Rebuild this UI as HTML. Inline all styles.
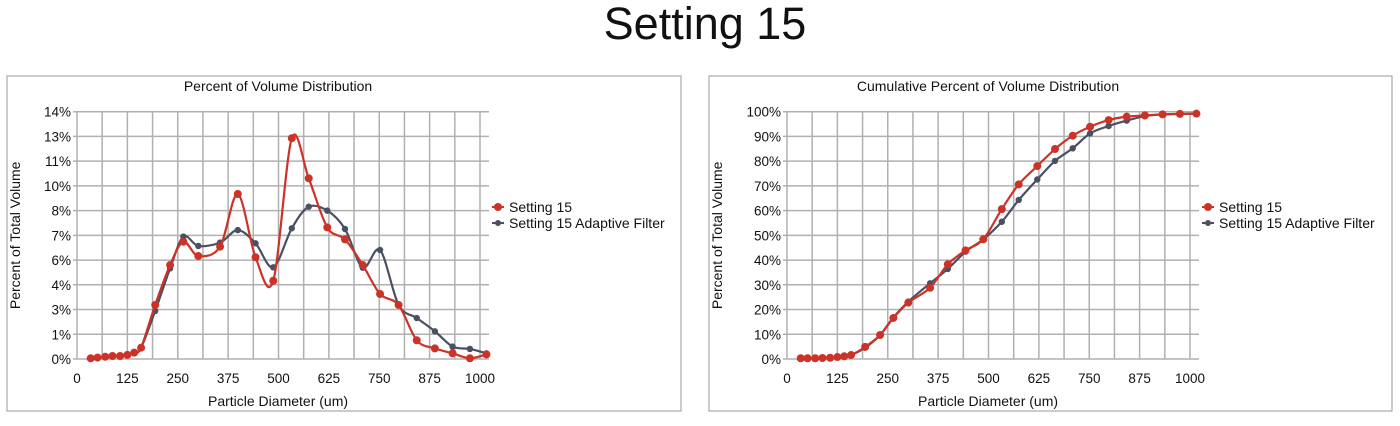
<!DOCTYPE html>
<html><head><meta charset="utf-8"><style>
body{margin:0;width:1400px;height:421px;background:#fff;overflow:hidden;font-family:"Liberation Sans",sans-serif}
svg text{font-family:"Liberation Sans",sans-serif;fill:#111}
</style></head><body>
<svg id="s" width="1400" height="421">
<text x="705" y="39" font-size="45" text-anchor="middle">Setting 15</text>
</svg>
<script>
const sizes=[34,51,70,88,107,125,142,159,194,231,264,301,355,399,443,487,533,575,621,665,709,752,798,843,888,932,975,1016];
const pctRed=[0.04,0.08,0.13,0.17,0.17,0.23,0.36,0.64,3.06,5.32,6.64,5.83,6.36,9.34,5.76,4.43,12.5,10.23,7.45,6.77,5.32,3.68,3.06,1.06,0.6,0.32,0.04,0.26];
const pctGray=[0.04,0.08,0.13,0.17,0.17,0.23,0.36,0.64,2.72,5.13,6.93,6.4,6.59,7.3,6.55,5.19,7.4,8.62,8.4,7.36,5.17,6.17,3.06,2.32,1.57,0.7,0.57,0.32];
const cumRed=[0.3,0.3,0.3,0.4,0.5,0.8,1.1,1.6,4.9,9.7,16.6,22.8,28.8,38.3,43.9,48.4,60.6,70.6,78.0,84.9,90.3,93.9,96.6,98.0,98.5,98.9,99.1,99.2];
const cumGray=[0.3,0.3,0.3,0.4,0.5,0.8,1.1,1.6,4.6,9.7,16.8,23.2,30.6,36.4,43.4,48.4,55.5,64.3,72.6,80.1,85.2,91.2,94.2,96.4,98.2,98.9,99.1,99.2];
const xTicks=[0,125,250,375,500,625,750,875,1000];
const yTicksL=["0%","1%","3%","4%","6%","7%","8%","10%","11%","13%","14%"];
const yTicksR=["0%","10%","20%","30%","40%","50%","60%","70%","80%","90%","100%"];
const seriesNames=["Setting 15","Setting 15 Adaptive Filter"];
const NS="http://www.w3.org/2000/svg";
const svg=document.getElementById('s');
function mk(t,a,p){const e=document.createElementNS(NS,t);for(const k in a)e.setAttribute(k,a[k]);(p||svg).appendChild(e);return e;}
function smooth(pts){let d=`M${pts[0][0]},${pts[0][1]}`;for(let i=0;i<pts.length-1;i++){const p0=pts[i-1]||pts[i],p1=pts[i],p2=pts[i+1],p3=pts[i+2]||p2;const t=0.16;d+=` C${p1[0]+(p2[0]-p0[0])*t},${p1[1]+(p2[1]-p0[1])*t} ${p2[0]-(p3[0]-p1[0])*t},${p2[1]-(p3[1]-p1[1])*t} ${p2[0]},${p2[1]}`;}return d;}
function chart(o){
 const g=mk('g',{});
 const b=mk('rect',{x:o.bx,y:76,width:o.bw,height:335,fill:'#fff',stroke:'#999','stroke-width':1},g);
 const X0=o.px,X1=o.px+403,Y0=359,Y1=111.7;
 const xs=v=>X0+(v/1000)*(X1-X0), ys=v=>Y0-(v/o.ymax)*(Y0-Y1);
 const t=mk('text',{x:X0+201,y:91,'font-size':14,'text-anchor':'middle'},g);t.textContent=o.title;
 for(let i=0;i<=16;i++){const x=X0+i*(X1-X0)/16;const l=mk('line',{x1:x,x2:x,y1:Y1,y2:Y0,stroke:'#b0b0b0','stroke-width':1.5},g);}
 const xe=o.px+412;
 o.yt.forEach((lab,i)=>{const y=Y0-i*(Y0-Y1)/10;const l=mk('line',{x1:X0-4,x2:xe,y1:y,y2:y,stroke:'#b0b0b0','stroke-width':1.5},g);
  const tx=mk('text',{x:X0-6,y:y+5,'font-size':13.5,'text-anchor':'end'},g);tx.textContent=lab;});
 xTicks.forEach(v=>{const tx=mk('text',{x:xs(v),y:383,'font-size':13.5,'text-anchor':'middle'},g);tx.textContent=v;});
 const xt=mk('text',{x:X0+201,y:406,'font-size':14,'text-anchor':'middle'},g);xt.textContent='Particle Diameter (um)';
 const yt=mk('text',{x:0,y:0,'font-size':14,'text-anchor':'middle',transform:`translate(${o.bx+13},${(Y0+Y1)/2}) rotate(-90)`},g);yt.textContent='Percent of Total Volume';
 [[o.gray,'#4a5062',3.2,'gray'],[o.red,'#cc3328',4,'red']].forEach(([arr,c,r,n])=>{
  const pts=arr.map((v,i)=>[xs(sizes[i]),ys(v)]);
  const p=mk('path',{d:smooth(pts),fill:'none',stroke:c,'stroke-width':2.2},g);
  pts.forEach(q=>{const m=mk('circle',{cx:q[0],cy:q[1],r:r,fill:c},g);});
 });
 [['#cc3328',0],['#4a5062',1]].forEach(([c,i])=>{const y=207+i*16;const lx=o.px+415;
  const ln=mk('line',{x1:lx,x2:lx+12,y1:y,y2:y,stroke:c,'stroke-width':2},g);
  const m=mk('circle',{cx:lx+6,cy:y,r:i?3:4,fill:c},g);
  const tx=mk('text',{x:lx+17,y:y+5,'font-size':14},g);tx.textContent=seriesNames[i];});
}
chart({name:'volume-distribution-chart',bx:7,bw:674,px:77,ymax:14,yt:yTicksL,red:pctRed,gray:pctGray,title:'Percent of Volume Distribution'});
chart({name:'cumulative-distribution-chart',bx:709,bw:683,px:787,ymax:100,yt:yTicksR,red:cumRed,gray:cumGray,title:'Cumulative Percent of Volume Distribution'});
</script>
</body></html>
